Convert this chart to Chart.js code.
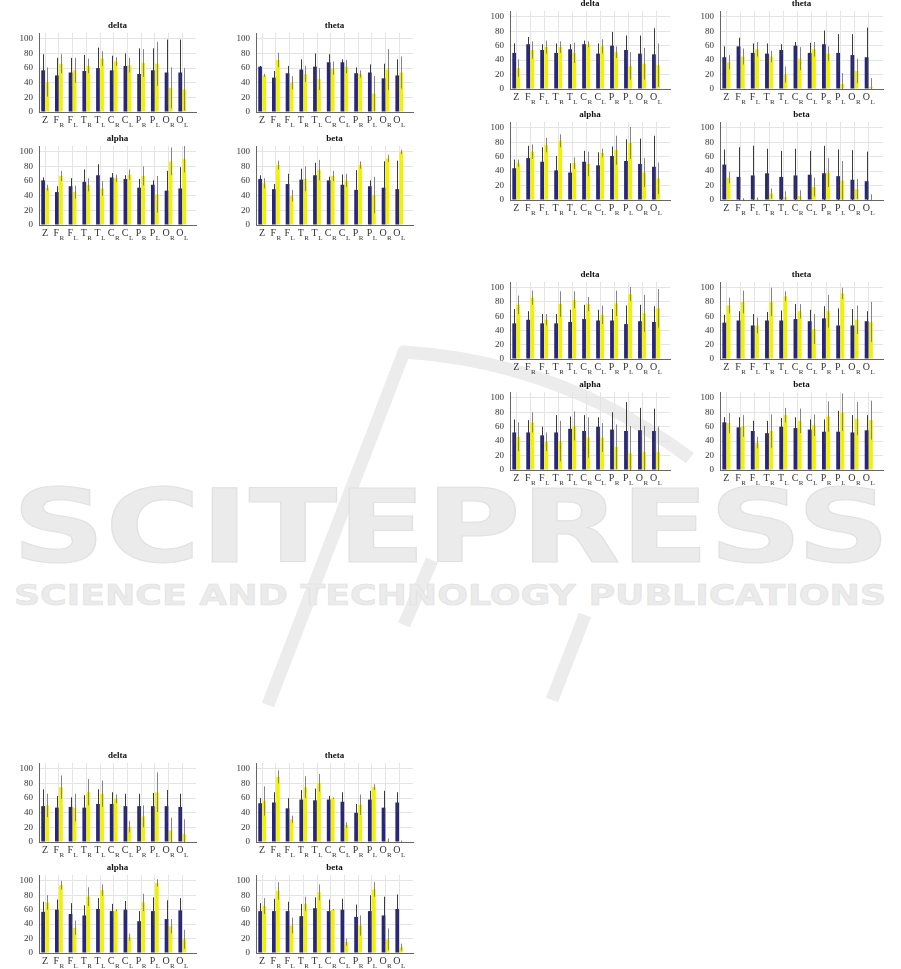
<!DOCTYPE html>
<html>
<head>
<meta charset="utf-8">
<script src="https://cdn.jsdelivr.net/npm/chart.js@4.4.0/dist/chart.umd.min.js"></script>
<style>
  body { margin: 0; background: #fff; width: 901px; height: 969px; position: relative; overflow: hidden; }
  #wm { position: absolute; left: 0; top: 0; }
  canvas.plot { position: absolute; }
</style>
</head>
<body>
<svg id="wm" width="901" height="969">
  <g fill="none" stroke="#ececec" stroke-width="13" stroke-linejoin="round">
    <path d="M 268 705 L 404 352 Q 560 362 690 458"/>
    <path d="M 432 560 L 404 625"/>
    <path d="M 585 615 L 552 700"/>
  </g>
  <text x="12" y="562" font-family="DejaVu Sans" font-weight="bold" font-size="102" textLength="878" lengthAdjust="spacingAndGlyphs" fill="#ebebeb" stroke="#e0e0e0" stroke-width="1">SCITEPRESS</text>
  <text x="14" y="605" font-family="DejaVu Sans" font-weight="bold" font-size="29" textLength="872" lengthAdjust="spacingAndGlyphs" fill="#ebebeb" stroke="#e0e0e0" stroke-width="0.6">SCIENCE AND TECHNOLOGY PUBLICATIONS</text>
</svg>
<script>
// electrode sites, "_" marks the subscript
const categories = ['Z', 'F_R', 'F_L', 'T_R', 'T_L', 'C_R', 'C_L', 'P_R', 'P_L', 'O_R', 'O_L'];
const yTicks = [0, 20, 40, 60, 80, 100];

// set 1 (top left)
const set1DeltaBlue     = [57, 50, 54, 56, 60, 57, 63, 52, 57, 54, 54];
const set1DeltaBlueSd   = [22, 24, 20, 22, 28, 20, 17, 35, 30, 45, 45];
const set1DeltaYellow   = [41, 66, 57, 63, 73, 69, 64, 67, 66, 33, 31];
const set1DeltaYellowSd = [20, 13, 17, 10, 10, 6, 10, 19, 30, 28, 29];
const set1ThetaBlue     = [62, 47, 53, 58, 62, 68, 68, 53, 54, 46, 50];
const set1ThetaBlueSd   = [1, 9, 10, 14, 18, 11, 4, 8, 11, 20, 22];
const set1ThetaYellow   = [50, 71, 40, 52, 45, 60, 62, 52, 25, 58, 54];
const set1ThetaYellowSd = [2, 10, 9, 11, 15, 9, 9, 5, 24, 28, 22];
const set1AlphaBlue     = [61, 45, 53, 59, 68, 65, 63, 51, 55, 47, 50];
const set1AlphaBlueSd   = [4, 8, 11, 17, 15, 6, 5, 12, 6, 27, 29];
const set1AlphaYellow   = [51, 67, 45, 55, 50, 64, 69, 67, 42, 87, 90];
const set1AlphaYellowSd = [4, 7, 9, 9, 10, 5, 7, 13, 25, 19, 18];
const set1BetaBlue      = [63, 49, 56, 62, 68, 61, 55, 48, 53, 51, 49];
const set1BetaBlueSd    = [5, 7, 14, 15, 17, 5, 14, 27, 8, 36, 39];
const set1BetaYellow    = [57, 82, 40, 63, 75, 67, 61, 82, 41, 91, 100];
const set1BetaYellowSd  = [7, 6, 8, 17, 14, 7, 9, 5, 25, 5, 3];

// set 2 (top right)
const set2DeltaBlue     = [50, 62, 54, 50, 55, 62, 49, 60, 54, 49, 48];
const set2DeltaBlueSd   = [13, 10, 8, 13, 7, 5, 14, 19, 20, 25, 36];
const set2DeltaYellow   = [29, 54, 58, 58, 50, 62, 59, 51, 32, 35, 33];
const set2DeltaYellowSd = [12, 12, 9, 8, 14, 4, 10, 8, 19, 22, 30];
const set2ThetaBlue     = [44, 59, 50, 49, 54, 60, 50, 62, 50, 47, 44];
const set2ThetaBlueSd   = [15, 12, 13, 14, 8, 5, 14, 19, 26, 29, 41];
const set2ThetaYellow   = [37, 45, 55, 45, 20, 42, 55, 49, 7, 25, 3];
const set2ThetaYellowSd = [10, 11, 10, 8, 11, 16, 10, 10, 15, 17, 12];
const set2AlphaBlue     = [44, 58, 53, 41, 38, 53, 48, 61, 54, 50, 46];
const set2AlphaBlueSd   = [12, 17, 20, 20, 13, 15, 18, 13, 30, 35, 43];
const set2AlphaYellow   = [51, 67, 76, 82, 51, 50, 65, 69, 79, 38, 30];
const set2AlphaYellowSd = [5, 10, 10, 9, 8, 17, 6, 20, 22, 20, 22];
const set2BetaBlue      = [49, 32, 34, 37, 32, 34, 35, 37, 33, 28, 26];
const set2BetaBlueSd    = [21, 41, 41, 34, 36, 37, 33, 38, 37, 41, 41];
const set2BetaYellow    = [31, 1, 1.5, 9, 4, 5.5, 18, 38, 27, 15, 1];
const set2BetaYellowSd  = [8, 1.5, 2, 7, 8, 8, 13, 20, 27, 14, 7];

// set 3 (middle right)
const set3DeltaBlue     = [50, 55, 50, 50, 52, 56, 54, 54, 49, 53, 52];
const set3DeltaBlueSd   = [20, 12, 13, 13, 17, 20, 15, 16, 26, 23, 22];
const set3DeltaYellow   = [76, 86, 55, 77, 83, 77, 62, 78, 91, 64, 71];
const set3DeltaYellowSd = [13, 10, 8, 18, 12, 10, 13, 18, 10, 26, 27];
const set3ThetaBlue     = [51, 54, 47, 54, 54, 56, 53, 57, 47, 47, 53];
const set3ThetaBlueSd   = [11, 13, 16, 12, 14, 21, 16, 17, 24, 23, 14];
const set3ThetaYellow   = [75, 80, 47, 80, 88, 67, 42, 67, 92, 55, 52];
const set3ThetaYellowSd = [11, 16, 11, 20, 7, 10, 21, 23, 8, 20, 28];
const set3AlphaBlue     = [52, 52, 48, 52, 57, 54, 60, 56, 54, 55, 54];
const set3AlphaBlueSd   = [18, 17, 12, 24, 17, 22, 13, 24, 40, 31, 31];
const set3AlphaYellow   = [46, 66, 39, 40, 61, 45, 45, 32, 23, 25, 25];
const set3AlphaYellowSd = [20, 14, 13, 28, 20, 28, 20, 31, 38, 36, 35];
const set3BetaBlue      = [66, 59, 54, 51, 60, 58, 56, 53, 53, 52, 55];
const set3BetaBlueSd    = [7, 14, 14, 17, 12, 15, 14, 17, 29, 24, 21];
const set3BetaYellow    = [65, 61, 38, 54, 76, 68, 62, 74, 80, 71, 69];
const set3BetaYellowSd  = [14, 15, 8, 23, 10, 17, 15, 21, 26, 23, 27];

// set 4 (bottom left)
const set4DeltaBlue     = [49, 47, 48, 47, 52, 52, 49, 49, 49, 49, 48];
const set4DeltaBlueSd   = [23, 16, 13, 17, 20, 16, 17, 17, 18, 22, 18];
const set4DeltaYellow   = [50, 75, 47, 68, 66, 59, 21, 35, 68, 16, 11];
const set4DeltaYellowSd = [16, 16, 19, 18, 18, 6, 8, 15, 27, 17, 20];
const set4ThetaBlue     = [53, 54, 46, 58, 57, 58, 55, 40, 58, 47, 54];
const set4ThetaBlueSd   = [7, 14, 14, 13, 16, 5, 13, 12, 12, 23, 14];
const set4ThetaYellow   = [56, 89, 31, 75, 81, 60, 23, 51, 75, 2, 0.5];
const set4ThetaYellowSd = [20, 9, 5, 15, 12, 1, 4, 14, 4, 3, 1.5];
const set4AlphaBlue     = [57, 60, 54, 52, 61, 58, 60, 44, 58, 47, 59];
const set4AlphaBlueSd   = [14, 14, 15, 14, 15, 10, 12, 14, 19, 26, 17];
const set4AlphaYellow   = [70, 94, 35, 78, 87, 59, 22, 70, 97, 37, 19];
const set4AlphaYellowSd = [10, 6, 10, 13, 8, 1, 5, 12, 5, 10, 13];
const set4BetaBlue      = [58, 58, 58, 51, 62, 58, 60, 50, 58, 52, 61];
const set4BetaBlueSd    = [11, 17, 13, 17, 15, 16, 15, 17, 22, 26, 20];
const set4BetaYellow    = [65, 86, 38, 68, 84, 60, 15, 38, 88, 19, 8];
const set4BetaYellowSd  = [11, 12, 11, 10, 11, 1, 5, 14, 10, 15, 5];

const NAVY = '#27257c';
const YELLOW = '#f2f200';
const Y_MAX = 108;
const SERIF = '"Liberation Serif", "DejaVu Serif", serif';

// plot rectangles: x of left/right edge, y of the 100 and 0 gridlines
const colsLeftGroup = [[39, 196], [256, 413]];
const colsRightGroup = [[510, 670], [720, 883]];

const panels = [
  { title: 'delta', b: set1DeltaBlue, bs: set1DeltaBlueSd, y: set1DeltaYellow, ys: set1DeltaYellowSd, col: colsLeftGroup[0], rows: [39, 112] },
  { title: 'theta', b: set1ThetaBlue, bs: set1ThetaBlueSd, y: set1ThetaYellow, ys: set1ThetaYellowSd, col: colsLeftGroup[1], rows: [39, 112] },
  { title: 'alpha', b: set1AlphaBlue, bs: set1AlphaBlueSd, y: set1AlphaYellow, ys: set1AlphaYellowSd, col: colsLeftGroup[0], rows: [152, 225] },
  { title: 'beta',  b: set1BetaBlue,  bs: set1BetaBlueSd,  y: set1BetaYellow,  ys: set1BetaYellowSd,  col: colsLeftGroup[1], rows: [152, 225] },

  { title: 'delta', b: set2DeltaBlue, bs: set2DeltaBlueSd, y: set2DeltaYellow, ys: set2DeltaYellowSd, col: colsRightGroup[0], rows: [17, 89] },
  { title: 'theta', b: set2ThetaBlue, bs: set2ThetaBlueSd, y: set2ThetaYellow, ys: set2ThetaYellowSd, col: colsRightGroup[1], rows: [17, 89] },
  { title: 'alpha', b: set2AlphaBlue, bs: set2AlphaBlueSd, y: set2AlphaYellow, ys: set2AlphaYellowSd, col: colsRightGroup[0], rows: [128, 200] },
  { title: 'beta',  b: set2BetaBlue,  bs: set2BetaBlueSd,  y: set2BetaYellow,  ys: set2BetaYellowSd,  col: colsRightGroup[1], rows: [128, 200] },

  { title: 'delta', b: set3DeltaBlue, bs: set3DeltaBlueSd, y: set3DeltaYellow, ys: set3DeltaYellowSd, col: colsRightGroup[0], rows: [288, 359] },
  { title: 'theta', b: set3ThetaBlue, bs: set3ThetaBlueSd, y: set3ThetaYellow, ys: set3ThetaYellowSd, col: colsRightGroup[1], rows: [288, 359] },
  { title: 'alpha', b: set3AlphaBlue, bs: set3AlphaBlueSd, y: set3AlphaYellow, ys: set3AlphaYellowSd, col: colsRightGroup[0], rows: [398, 470] },
  { title: 'beta',  b: set3BetaBlue,  bs: set3BetaBlueSd,  y: set3BetaYellow,  ys: set3BetaYellowSd,  col: colsRightGroup[1], rows: [398, 470] },

  { title: 'delta', b: set4DeltaBlue, bs: set4DeltaBlueSd, y: set4DeltaYellow, ys: set4DeltaYellowSd, col: colsLeftGroup[0], rows: [769, 842] },
  { title: 'theta', b: set4ThetaBlue, bs: set4ThetaBlueSd, y: set4ThetaYellow, ys: set4ThetaYellowSd, col: colsLeftGroup[1], rows: [769, 842] },
  { title: 'alpha', b: set4AlphaBlue, bs: set4AlphaBlueSd, y: set4AlphaYellow, ys: set4AlphaYellowSd, col: colsLeftGroup[0], rows: [881, 953] },
  { title: 'beta',  b: set4BetaBlue,  bs: set4BetaBlueSd,  y: set4BetaYellow,  ys: set4BetaYellowSd,  col: colsLeftGroup[1], rows: [881, 953] }
];

// vertical sd lines on each bar
const errorBars = {
  id: 'errorBars',
  afterDatasetsDraw(chart) {
    const { ctx } = chart;
    const ys = chart.scales.y;
    chart.data.datasets.forEach((ds, di) => {
      const meta = chart.getDatasetMeta(di);
      ctx.save();
      ctx.strokeStyle = ds.errColor;
      ctx.lineWidth = 1;
      meta.data.forEach((bar, i) => {
        const v = ds.data[i].y, e = ds.sd[i];
        const x = Math.round(bar.x) + 0.5;
        ctx.beginPath();
        ctx.moveTo(x, ys.getPixelForValue(Math.max(0, v - e)));
        ctx.lineTo(x, ys.getPixelForValue(v + e));
        ctx.stroke();
      });
      ctx.restore();
    });
  }
};

// panel title and subscripted site labels
const panelText = {
  id: 'panelText',
  afterDraw(chart) {
    const { ctx, chartArea: a } = chart;
    const xs = chart.scales.x;
    ctx.save();
    ctx.fillStyle = '#111';
    ctx.font = 'bold 9px ' + SERIF;
    ctx.textAlign = 'center';
    ctx.textBaseline = 'middle';
    ctx.fillText(chart.options.plugins.panelText.title, (a.left + a.right) / 2, a.top - 7);
    ctx.textAlign = 'left';
    ctx.textBaseline = 'alphabetic';
    ctx.fillStyle = '#333';
    categories.forEach((lab, i) => {
      const [main, sub] = lab.split('_');
      ctx.font = '10px ' + SERIF;
      const wMain = ctx.measureText(main).width;
      ctx.font = '7px ' + SERIF;
      const wSub = sub ? ctx.measureText(sub).width + 0.5 : 0;
      const cx = xs.getPixelForValue(i + 1);
      const x0 = cx - (wMain + wSub) / 2;
      ctx.font = '10px ' + SERIF;
      ctx.fillText(main, x0, a.bottom + 11);
      if (sub) {
        ctx.font = '7px ' + SERIF;
        ctx.fillText(sub, x0 + wMain + 0.5, a.bottom + 14.5);
      }
    });
    ctx.restore();
  }
};

const PAD_L = 34, PAD_R = 4, PAD_T = 14, PAD_B = 18;

panels.forEach(p => {
  const [left, right] = p.col;
  const [y100, y0] = p.rows;
  const ppu = (y0 - y100) / 100;
  const plotTop = y0 - Y_MAX * ppu;
  const cv = document.createElement('canvas');
  cv.className = 'plot';
  const w = Math.round(right - left) + PAD_L + PAD_R;
  const h = Math.round(y0 - plotTop) + PAD_T + PAD_B;
  cv.width = w; cv.height = h;
  cv.style.width = w + 'px'; cv.style.height = h + 'px';
  cv.style.left = (left - PAD_L) + 'px';
  cv.style.top = Math.round(plotTop - PAD_T) + 'px';
  document.body.appendChild(cv);

  new Chart(cv.getContext('2d'), {
    type: 'bar',
    data: {
      datasets: [
        { label: 'Condition 1', data: p.b.map((v, i) => ({ x: i + 1, y: v })), sd: p.bs,
          backgroundColor: NAVY, errColor: '#3a3a3a' },
        { label: 'Condition 2', data: p.y.map((v, i) => ({ x: i + 1, y: v })), sd: p.ys,
          backgroundColor: YELLOW, errColor: '#858585' }
      ]
    },
    options: {
      responsive: false,
      animation: false,
      categoryPercentage: 0.6,
      barPercentage: 0.9,
      layout: { padding: { top: PAD_T, right: PAD_R, left: 0, bottom: 0 } },
      plugins: {
        legend: { display: false },
        tooltip: { enabled: false },
        panelText: { title: p.title }
      },
      scales: {
        x: {
          type: 'linear', min: 0.55, max: 12, offset: false,
          afterBuildTicks: s => { s.ticks = categories.map((_, i) => ({ value: i + 1 })); },
          afterFit: s => { s.height = PAD_B; },
          ticks: { display: false },
          grid: { color: '#e4e4e4', drawTicks: false, offset: false },
          border: { color: '#666', width: 1 }
        },
        y: {
          min: 0, max: Y_MAX,
          afterBuildTicks: s => { s.ticks = yTicks.map(v => ({ value: v })); },
          afterFit: s => { s.width = PAD_L; },
          ticks: { font: { family: SERIF, size: 9 }, color: '#333', padding: 6 },
          grid: { color: '#e4e4e4', drawTicks: false },
          border: { color: '#666', width: 1 }
        }
      }
    },
    plugins: [errorBars, panelText]
  });
});
</script>
</body>
</html>
